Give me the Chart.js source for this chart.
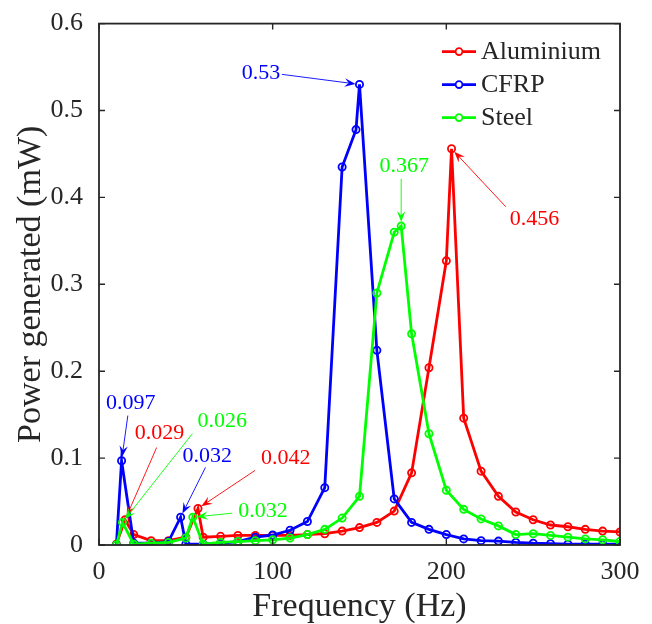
<!DOCTYPE html>
<html><head><meta charset="utf-8">
<script src="https://cdn.jsdelivr.net/npm/chart.js@4.4.0/dist/chart.umd.min.js"></script>
<style>html,body{margin:0;padding:0;background:#fff}</style>
</head><body>
<canvas id="c" width="652" height="624"></canvas>
<script>
// ---- data ----
const seriesNames = ['Aluminium', 'CFRP', 'Steel'];
const seriesColors = ['#ff0000', '#0000ff', '#00ff00'];

const alFreq  = [10,15,20,30,40,50,57,60,70,80,90,100,110,120,130,140,150,160,170,180,190,200,203,210,220,230,240,250,260,270,280,290,300];
const alPower = [0.001,0.029,0.012,0.005,0.005,0.009,0.042,0.009,0.010,0.011,0.011,0.011,0.011,0.012,0.013,0.016,0.020,0.026,0.039,0.083,0.204,0.327,0.456,0.146,0.085,0.056,0.038,0.029,0.023,0.021,0.018,0.016,0.015];

const cfFreq  = [10,13,20,30,40,47,50,60,70,80,90,100,110,120,130,140,148,150,160,170,180,190,200,210,220,230,240,250,260,270,280,290,300];
const cfPower = [0,0.097,0.002,0.002,0.004,0.032,0.001,0.001,0.002,0.004,0.009,0.0115,0.017,0.027,0.066,0.435,0.478,0.53,0.224,0.053,0.026,0.018,0.012,0.007,0.005,0.0045,0.003,0.002,0.0015,0.001,0.001,0.001,0.001];

const stFreq  = [10,13.5,20,30,40,50,54,60,70,80,90,100,110,120,130,140,150,160,170,174,180,190,200,210,220,230,240,250,260,270,280,290,300];
const stPower = [0,0.026,0.001,0.002,0.003,0.008,0.032,0.001,0.003,0.004,0.005,0.006,0.008,0.012,0.018,0.031,0.056,0.290,0.360,0.367,0.243,0.128,0.063,0.041,0.030,0.022,0.012,0.013,0.011,0.009,0.007,0.006,0.004];

const xTicks = [0,100,200,300];
const yTicks = [0,0.1,0.2,0.3,0.4,0.5,0.6];
const xTickLabels = ['0','100','200','300'];
const yTickLabels = ['0','0.1','0.2','0.3','0.4','0.5','0.6'];

// annotation labels: text, series index, target (data), text centre (data), arrow start (data)
const annText    = ['0.53','0.367','0.456','0.097','0.029','0.026','0.032','0.042','0.032'];
const annSeries  = [1,2,0,1,0,2,1,0,2];
const annTgtX    = [150,174,203,13,15,13.5,47,57,54];
const annTgtY    = [0.53,0.367,0.456,0.097,0.029,0.026,0.032,0.042,0.032];
const annTxtX    = [93.3,175.8,250.8,18.3,34.9,71.0,62.4,107.6,94.5];
const annTxtY    = [0.5428,0.4363,0.3744,0.1626,0.1282,0.1420,0.1019,0.0996,0.0389];
const annFromX   = [105.3,174.0,234.2,16.6,33.2,53.8,61.3,89.9,76.7];
const annFromY   = [0.5416,0.4214,0.3893,0.1489,0.1122,0.1282,0.0893,0.0859,0.0366];

const FONT = "'Liberation Serif', 'DejaVu Serif', serif";
const AXC = '#262626';

function zip(xs, ys){ return xs.map((x,i)=>({x:x, y:ys[i]})); }

function drawArrow(ctx, x0, y0, x1, y1, color){
  const dx = x1-x0, dy = y1-y0, L = Math.hypot(dx,dy);
  const ux = dx/L, uy = dy/L;
  const tx = x1-ux*4, ty = y1-uy*4;
  const hl = 11, hw = 4.2;
  const bx = tx-ux*hl, by = ty-uy*hl;
  ctx.strokeStyle = color; ctx.fillStyle = color; ctx.lineWidth = 0.9;
  ctx.beginPath(); ctx.moveTo(x0,y0); ctx.lineTo(tx-ux*7, ty-uy*7); ctx.stroke();
  ctx.beginPath();
  ctx.moveTo(tx,ty);
  ctx.lineTo(bx-uy*hw, by+ux*hw);
  ctx.lineTo(tx-ux*hl*0.62, ty-uy*hl*0.62);
  ctx.lineTo(bx+uy*hw, by-ux*hw);
  ctx.closePath(); ctx.fill();
}

const decor = {
  id: 'decor',
  afterDatasetsDraw(chart){
    const ctx = chart.ctx, a = chart.chartArea;
    const xs = chart.scales.x, ys = chart.scales.y;
    ctx.save();
    // box
    ctx.strokeStyle = AXC; ctx.lineWidth = 1.8;
    ctx.strokeRect(a.left, a.top, a.right-a.left, a.bottom-a.top);
    // inward ticks
    ctx.lineWidth = 1.4;
    const tl = 6;
    ctx.beginPath();
    xTicks.forEach(v=>{
      const p = xs.getPixelForValue(v);
      ctx.moveTo(p, a.bottom); ctx.lineTo(p, a.bottom-tl);
      ctx.moveTo(p, a.top); ctx.lineTo(p, a.top+tl);
    });
    yTicks.forEach(v=>{
      const p = ys.getPixelForValue(v);
      ctx.moveTo(a.left, p); ctx.lineTo(a.left+tl, p);
      ctx.moveTo(a.right, p); ctx.lineTo(a.right-tl, p);
    });
    ctx.stroke();
    // annotations
    ctx.font = '22px ' + FONT;
    ctx.textAlign = 'center'; ctx.textBaseline = 'middle';
    annText.forEach((t,i)=>{
      const col = seriesColors[annSeries[i]];
      ctx.fillStyle = col;
      ctx.fillText(t, xs.getPixelForValue(annTxtX[i]), ys.getPixelForValue(annTxtY[i]));
      drawArrow(ctx, xs.getPixelForValue(annFromX[i]), ys.getPixelForValue(annFromY[i]),
                xs.getPixelForValue(annTgtX[i]), ys.getPixelForValue(annTgtY[i]), col);
    });
    // legend
    const lx0 = a.right - 178, ly0 = a.top + 28, dy = 33;
    ctx.font = '26px ' + FONT;
    ctx.textAlign = 'left'; ctx.textBaseline = 'middle';
    chart.data.datasets.forEach((ds,i)=>{
      const y = ly0 + i*dy;
      ctx.strokeStyle = ds.borderColor; ctx.lineWidth = 2.6;
      ctx.beginPath(); ctx.moveTo(lx0, y); ctx.lineTo(lx0+34, y); ctx.stroke();
      ctx.lineWidth = 1.8;
      ctx.beginPath(); ctx.arc(lx0+17, y, 3.4, 0, Math.PI*2); ctx.fillStyle='#fff'; ctx.fill(); ctx.stroke();
      ctx.fillStyle = AXC;
      ctx.fillText(ds.label, lx0+39, y+1);
    });
    ctx.restore();
  }
};

const datasets = [zip(alFreq, alPower), zip(cfFreq, cfPower), zip(stFreq, stPower)].map((d,i)=>({
  label: seriesNames[i],
  data: d,
  borderColor: seriesColors[i],
  backgroundColor: seriesColors[i],
  borderWidth: 2.8,
  pointRadius: 3.6,
  pointBorderWidth: 1.8,
  pointBackgroundColor: 'rgba(255,255,255,0)',
  pointBorderColor: seriesColors[i],
  tension: 0,
  fill: false,
  order: 3-i
}));

new Chart(document.getElementById('c'), {
  type: 'line',
  data: { datasets },
  options: {
    responsive: false,
    animation: false,
    layout: { padding: { top: 21, right: 32, left: 0, bottom: 0 } },
    plugins: { legend: { display: false }, tooltip: { enabled: false } },
    scales: {
      x: {
        type: 'linear', min: 0, max: 300,
        afterBuildTicks: s => { s.ticks = xTicks.map(v=>({value:v})); },
        ticks: { callback: (v)=> xTickLabels[xTicks.indexOf(v)], color: AXC, font: { family: FONT, size: 26 }, padding: 4, maxRotation: 0, autoSkip: false },
        grid: { display: false },
        border: { display: false },
        title: { display: true, text: 'Frequency (Hz)', color: AXC, font: { family: FONT, size: 34, lineHeight: 1 }, padding: 0 },
        afterFit: s => { s.height = 79; }
      },
      y: {
        type: 'linear', min: 0, max: 0.6,
        afterBuildTicks: s => { s.ticks = yTicks.map(v=>({value:v})); },
        ticks: { callback: (v)=> yTickLabels[yTicks.findIndex(t=>Math.abs(t-v)<1e-9)], color: AXC, font: { family: FONT, size: 26 }, padding: 8, autoSkip: false },
        grid: { display: false },
        border: { display: false },
        title: { display: true, text: 'Power generated (mW)', color: AXC, font: { family: FONT, size: 34 }, padding: 11 },
        afterFit: s => { s.width = 99; }
      }
    }
  },
  plugins: [decor]
});
</script>
</body></html>
